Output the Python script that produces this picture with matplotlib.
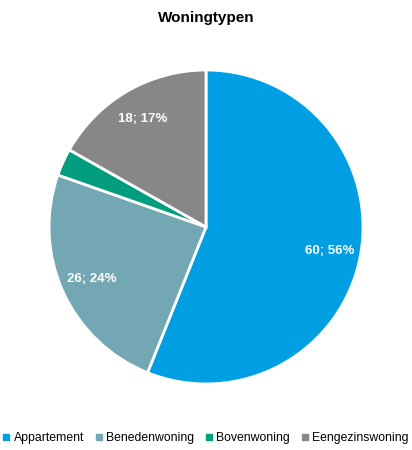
import matplotlib.pyplot as plt
import numpy as np

labels = ["Appartement", "Benedenwoning", "Bovenwoning", "Eengezinswoning"]
counts = [60, 26, 3, 18]
colors = ["#009FE3", "#73A7B4", "#009D7E", "#878787"]

plt.rcParams['font.family'] = ['Liberation Sans', 'DejaVu Sans']

fig = plt.figure(figsize=(4.12, 4.5), dpi=100)
ax = fig.add_axes([0.5 - 0.381, 0.4956 - 0.349, 0.762, 0.698])

wedges, _ = ax.pie(counts, colors=colors, startangle=90, counterclock=False,
                   radius=1.0, wedgeprops=dict(edgecolor='white', linewidth=2))

total = sum(counts)
for w, c in zip(wedges, counts):
    pct = round(100 * c / total)
    if pct < 5:
        continue
    ang = np.deg2rad((w.theta1 + w.theta2) / 2)
    ax.text(0.80 * np.cos(ang), 0.80 * np.sin(ang), f"{c}; {pct}%",
            ha='center', va='center', color='white', fontsize=9.5,
            fontweight='bold')

ax.set_xlim(-1, 1)
ax.set_ylim(-1, 1)
ax.set_aspect('equal')
ax.axis('off')

fig.text(0.5, 0.96, "Woningtypen", ha='center', va='center',
         fontsize=11, fontweight='bold')

handles = [plt.Line2D([], [], marker='s', linestyle='', color=c, markersize=3.8)
           for c in colors]
fig.legend(handles, labels, loc='center', bbox_to_anchor=(0.5, 0.027),
           ncol=4, frameon=False, fontsize=8.8, handlelength=0.5,
           handletextpad=0.35, columnspacing=0.95, borderpad=0.1)

fig.savefig("out.png", dpi=100)
